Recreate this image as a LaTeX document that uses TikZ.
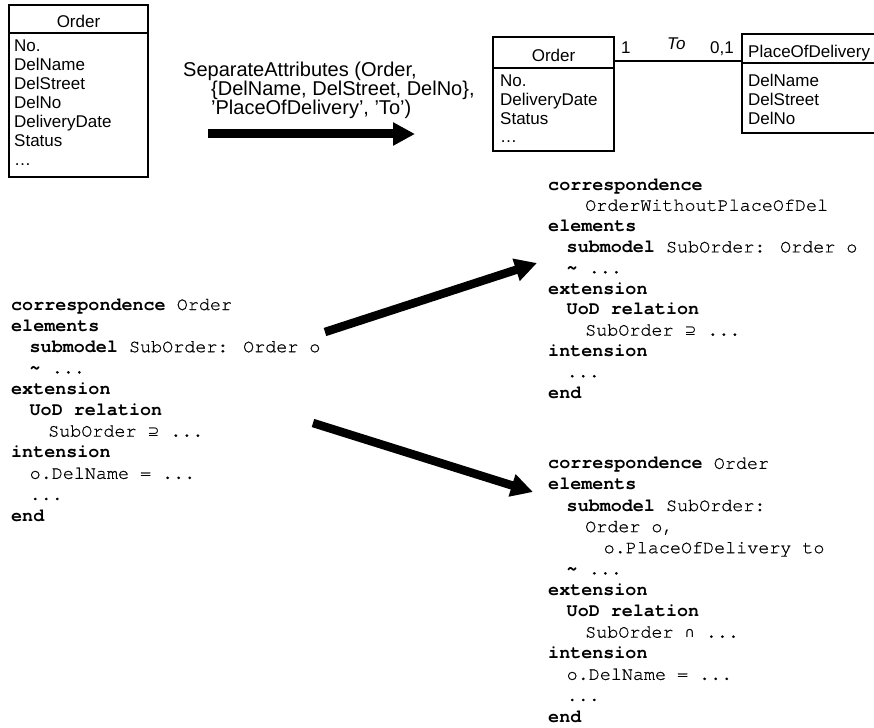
\documentclass[tikz,border=0pt]{standalone}
\usepackage{fontspec}
\setmainfont{Liberation Sans}
\newfontfamily\codefont{TeX Gyre Cursor}[UprightFeatures={FakeBold=0.7}]
\newfontfamily\mathsym{DejaVu Sans}
\usetikzlibrary{arrows.meta}

% code listing helpers
\newcommand\kw[1]{\textbf{#1}}
\newcommand\indI{\hspace*{18.5pt}}
\newcommand\indII{\hspace*{37pt}}
\newcommand\indIII{\hspace*{55.5pt}}
\newcommand\supeq{{\mathsym\fontsize{14}{14}\selectfont ⊇}}
\newcommand\capsym{{\mathsym\fontsize{14}{14}\selectfont ∩}}

\begin{document}
\begin{tikzpicture}[x=1pt,y=-1pt,
  umlline/.style={line width=1.2pt},
  % multi-line nodes are placed by the baseline of their last line
  attrs/.style={anchor=base west, inner sep=0pt, align=left,
    font=\fontsize{17}{19}\selectfont},
  boxtitle/.style={anchor=base, inner sep=0pt, font=\fontsize{17}{19}\selectfont},
  mult/.style={anchor=base west, inner sep=0pt, font=\fontsize{17}{19}\selectfont},
  oplabel/.style={anchor=base west, inner sep=0pt, align=left,
    font=\fontsize{20}{19}\selectfont},
  code/.style={anchor=base west, inner sep=0pt, align=left,
    font=\codefont\fontsize{18.4}{21.1}\selectfont},
  bigarrow/.style={line width=9pt, -{Triangle[length=22pt,width=22pt]}}
]
\useasboundingbox (0,0) rectangle (874,727);

% ---- original class Order
\draw[umlline] (9,5) rectangle (148,177);
\draw[umlline] (9,33) -- (148,33);
\node[boxtitle] (o1title) at (78.5,28) {Order};
\node[attrs] (o1attrs) at (14,166) {No.\\DelName\\DelStreet\\DelNo\\DeliveryDate\\Status\\\ldots};

% ---- transformation label and arrow
\node[oplabel] (op) at (183,115) {SeparateAttributes (Order,\\
\hspace*{28pt}\{DelName, DelStreet, DelNo\},\\
\hspace*{28pt}'PlaceOfDelivery', 'To')};
\coordinate (a1s) at (208,134);
\coordinate (a1e) at (415,134);
\draw[bigarrow] (a1s) -- (a1e);

% ---- resulting class Order
\draw[umlline] (493,37) rectangle (614,151);
\draw[umlline] (493,68) -- (614,68);
\node[boxtitle] (o2title) at (553.5,62) {Order};
\node[attrs, font=\fontsize{17}{18.7}\selectfont] (o2attrs) at (500,143) {No.\\DeliveryDate\\Status\\\ldots};

% ---- class PlaceOfDelivery (runs off the right edge)
\draw[umlline] (875,34) -- (742,34) -- (742,133) -- (875,133);
\draw[umlline] (742,63) -- (875,63);
\node[mult] (podtitle) at (748,58) {PlaceOfDelivery};
\node[attrs] (podattrs) at (748,125) {DelName\\DelStreet\\DelNo};

% ---- association To
\coordinate (asA) at (614,61);
\coordinate (asB) at (742,61);
\draw[umlline] (asA) -- (asB);
\node[mult] (m1) at (621,54) {1};
\node[mult, font=\fontsize{17}{19}\itshape] (role) at (667,50) {To};
\node[mult] (m2) at (710,54) {0,1};

% ---- correspondence of the original schema
\node[code] (cOrig) at (11,521) {%
\kw{correspondence} Order\\
\kw{elements}\\
\indI\kw{submodel} SubOrder: Order o\\
\indI\kw{\textasciitilde} ...\\
\kw{extension}\\
\indI\kw{UoD relation}\\
\indII SubOrder \supeq{} ...\\
\kw{intension}\\
\indI o.DelName = ...\\
\indI ...\\
\kw{end}};

% ---- correspondence without place of delivery
\node[code, font=\codefont\fontsize{18.4}{20.8}\selectfont] (cWithout) at (548,398) {%
\kw{correspondence}\\
\indII OrderWithoutPlaceOfDel\\
\kw{elements}\\
\indI\kw{submodel} SubOrder: Order o\\
\indI\kw{\textasciitilde} ...\\
\kw{extension}\\
\indI\kw{UoD relation}\\
\indII SubOrder \supeq{} ...\\
\kw{intension}\\
\indI ...\\
\kw{end}};

% ---- correspondence with place of delivery
\node[code] (cWith) at (548,722) {%
\kw{correspondence} Order\\
\kw{elements}\\
\indI\kw{submodel} SubOrder:\\
\indII Order o,\\
\indIII o.PlaceOfDelivery to\\
\indI\kw{\textasciitilde} ...\\
\kw{extension}\\
\indI\kw{UoD relation}\\
\indII SubOrder \capsym{} ...\\
\kw{intension}\\
\indI o.DelName = ...\\
\indI ...\\
\kw{end}};

% ---- mapping arrows
\coordinate (a2s) at (325,332);
\coordinate (a2e) at (537,263);
\coordinate (a3s) at (313,423);
\coordinate (a3e) at (533,492);
\draw[bigarrow, line width=8.5pt] (a2s) -- (a2e);
\draw[bigarrow, line width=8.5pt] (a3s) -- (a3e);
\end{tikzpicture}
\end{document}
